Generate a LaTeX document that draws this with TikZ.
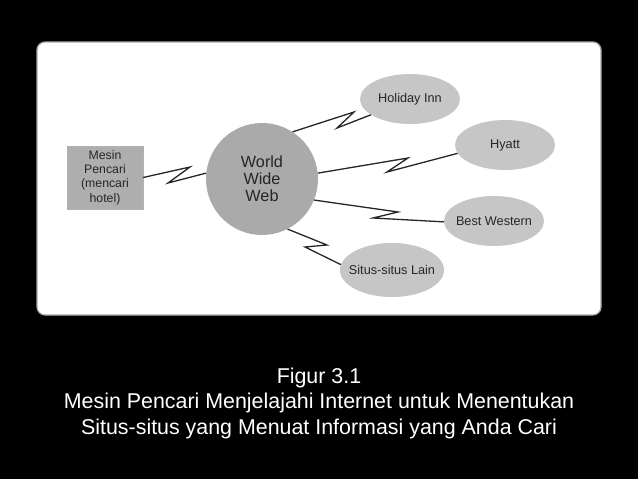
\documentclass[tikz,border=0pt]{standalone}
\usepackage{fontspec}
\setmainfont{Liberation Sans}
\usetikzlibrary{shapes.geometric}
\definecolor{circfill}{HTML}{AAAAAA}
\definecolor{boxfill}{HTML}{AEAEAE}
\definecolor{ellfill}{HTML}{C6C6C6}
\definecolor{txtgray}{HTML}{262626}
\tikzset{
  panel/.style={draw=gray!70, line width=1.2pt, fill=white, rounded corners=8pt},
  webnode/.style={circle, fill=circfill, minimum size=112pt, inner sep=0pt, align=center,
    text=txtgray, font=\fontsize{16.2}{17}\selectfont},
  enginebox/.style={rectangle, fill=boxfill, draw=gray!60, line width=0.4pt, minimum width=76pt, minimum height=63pt,
    inner sep=0pt, align=center, text=txtgray, font=\fontsize{12.3}{14.3}\selectfont},
  sitenode/.style={ellipse, fill=ellfill, minimum width=100pt, minimum height=50pt, inner sep=0pt},
  sitetext/.style={inner sep=0pt, text=txtgray, font=\fontsize{12.7}{14}\selectfont},
  zig/.style={draw=black!85, line width=1.3pt, line join=miter},
  captext/.style={text=white, align=center, font=\fontsize{21.4}{25.5}\selectfont}
}
\begin{document}
\begin{tikzpicture}[x=1pt,y=-1pt]
\fill[black] (0,0) rectangle (638,479);
\useasboundingbox (0,0) rectangle (638,479);
\draw[panel] (37,42) rectangle (601,315);

\node[enginebox] (mesin) at (105,177.5) {Mesin\\Pencari\\(mencari\\hotel)};
\node[webnode] (www) at (262,179) {World\\Wide\\Web};
\node[sitenode, label={[sitetext]center:Holiday Inn}] (hi) at (410,99) {};
\node[sitenode, label={[sitetext]center:Hyatt}] (hy) at (505,145) {};
\node[sitenode, label={[sitetext]center:Best Western}] (bw) at (494,221) {};
\node[sitenode, minimum width=104pt, minimum height=54pt, label={[sitetext]center:Situs-situs Lain}] (si) at (392,270) {};

\coordinate (z1a) at (190,167);
\coordinate (z1b) at (168,183);
\coordinate (z2a) at (354,112);
\coordinate (z2b) at (337,128);
\coordinate (z3a) at (408,158);
\coordinate (z3b) at (387,172);
\coordinate (z4a) at (398,212);
\coordinate (z4b) at (373,218);
\coordinate (z5a) at (327,245);
\coordinate (z5b) at (305,247);

\draw[zig] (mesin.east) -- (z1a) -- (z1b) -- (www.174);
\draw[zig] (www.57) -- (z2a) -- (z2b) -- (hi.202);
\draw[zig] (www.6) -- (z3a) -- (z3b) -- (hy.190);
\draw[zig] (www.-22) -- (z4a) -- (z4b) -- (bw.181);
\draw[zig] (www.-63) -- (z5a) -- (z5b) -- (si.174);

\node[captext] (cap) at (319,403) {Figur 3.1\\Mesin Pencari Menjelajahi Internet untuk Menentukan\\Situs-situs yang Menuat Informasi yang Anda Cari};
\end{tikzpicture}
\end{document}
